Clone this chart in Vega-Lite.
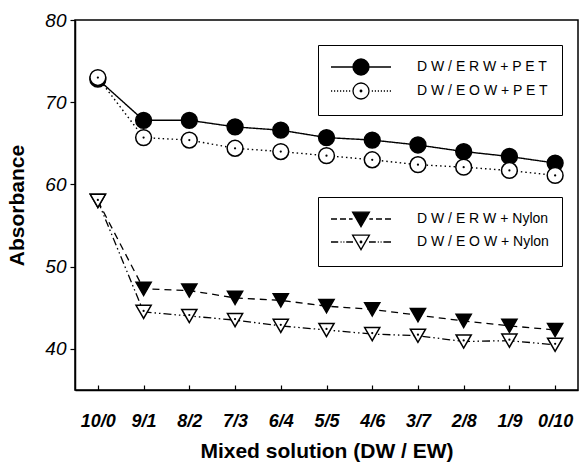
{
  "$schema": "https://vega.github.io/schema/vega-lite/v6.json",
  "width": 503,
  "height": 370,
  "autosize": {"type": "none"},
  "padding": {"left": 75, "top": 20, "right": 6, "bottom": 80},
  "background": "white",
  "config": {
    "font": "Liberation Sans",
    "view": {"stroke": "black", "strokeWidth": 1.5},
    "axis": {"domainColor": "black", "domainWidth": 1.5, "tickColor": "black", "tickWidth": 1.2, "labelColor": "black", "titleColor": "black", "grid": false},
    "legend": {"orient": "none", "title": null, "strokeColor": "black", "fillColor": "white", "padding": 13, "rowPadding": 2, "symbolSize": 256, "symbolOffset": 21, "labelOffset": 47, "labelFontSize": 14, "labelColor": "black", "labelFont": "Liberation Sans", "symbolStrokeColor": "black", "symbolStrokeWidth": 1.3, "symbolOpacity": 1}
  },
  "title": {"text": "Fig. 3.", "orient": "bottom", "anchor": "start", "dx": -73, "offset": -12, "fontSize": 20, "fontWeight": "bold", "color": "#444", "font": "Liberation Sans"},
  "datasets": {
    "pet": [
      {"series": "DW/ERW+PET", "ratio": "10/0", "value": 72.8},
      {"series": "DW/ERW+PET", "ratio": "9/1", "value": 67.8},
      {"series": "DW/ERW+PET", "ratio": "8/2", "value": 67.8},
      {"series": "DW/ERW+PET", "ratio": "7/3", "value": 67.0},
      {"series": "DW/ERW+PET", "ratio": "6/4", "value": 66.6},
      {"series": "DW/ERW+PET", "ratio": "5/5", "value": 65.7},
      {"series": "DW/ERW+PET", "ratio": "4/6", "value": 65.4},
      {"series": "DW/ERW+PET", "ratio": "3/7", "value": 64.8},
      {"series": "DW/ERW+PET", "ratio": "2/8", "value": 64.0},
      {"series": "DW/ERW+PET", "ratio": "1/9", "value": 63.4},
      {"series": "DW/ERW+PET", "ratio": "0/10", "value": 62.6},
      {"series": "DW/EOW+PET", "ratio": "10/0", "value": 73.0},
      {"series": "DW/EOW+PET", "ratio": "9/1", "value": 65.7},
      {"series": "DW/EOW+PET", "ratio": "8/2", "value": 65.4},
      {"series": "DW/EOW+PET", "ratio": "7/3", "value": 64.4},
      {"series": "DW/EOW+PET", "ratio": "6/4", "value": 64.0},
      {"series": "DW/EOW+PET", "ratio": "5/5", "value": 63.5},
      {"series": "DW/EOW+PET", "ratio": "4/6", "value": 63.0},
      {"series": "DW/EOW+PET", "ratio": "3/7", "value": 62.4},
      {"series": "DW/EOW+PET", "ratio": "2/8", "value": 62.1},
      {"series": "DW/EOW+PET", "ratio": "1/9", "value": 61.7},
      {"series": "DW/EOW+PET", "ratio": "0/10", "value": 61.1}
    ],
    "nylon": [
      {"series": "DW/ERW+Nylon", "ratio": "10/0", "value": 58.0},
      {"series": "DW/ERW+Nylon", "ratio": "9/1", "value": 47.3},
      {"series": "DW/ERW+Nylon", "ratio": "8/2", "value": 47.1},
      {"series": "DW/ERW+Nylon", "ratio": "7/3", "value": 46.2},
      {"series": "DW/ERW+Nylon", "ratio": "6/4", "value": 45.9},
      {"series": "DW/ERW+Nylon", "ratio": "5/5", "value": 45.2},
      {"series": "DW/ERW+Nylon", "ratio": "4/6", "value": 44.8},
      {"series": "DW/ERW+Nylon", "ratio": "3/7", "value": 44.1},
      {"series": "DW/ERW+Nylon", "ratio": "2/8", "value": 43.4},
      {"series": "DW/ERW+Nylon", "ratio": "1/9", "value": 42.8},
      {"series": "DW/ERW+Nylon", "ratio": "0/10", "value": 42.3},
      {"series": "DW/EOW+Nylon", "ratio": "10/0", "value": 58.0},
      {"series": "DW/EOW+Nylon", "ratio": "9/1", "value": 44.5},
      {"series": "DW/EOW+Nylon", "ratio": "8/2", "value": 44.0},
      {"series": "DW/EOW+Nylon", "ratio": "7/3", "value": 43.5},
      {"series": "DW/EOW+Nylon", "ratio": "6/4", "value": 42.8},
      {"series": "DW/EOW+Nylon", "ratio": "5/5", "value": 42.3},
      {"series": "DW/EOW+Nylon", "ratio": "4/6", "value": 41.8},
      {"series": "DW/EOW+Nylon", "ratio": "3/7", "value": 41.6},
      {"series": "DW/EOW+Nylon", "ratio": "2/8", "value": 40.9},
      {"series": "DW/EOW+Nylon", "ratio": "1/9", "value": 41.0},
      {"series": "DW/EOW+Nylon", "ratio": "0/10", "value": 40.5}
    ]
  },
  "encoding": {
    "x": {
      "field": "ratio", "type": "ordinal",
      "sort": ["10/0", "9/1", "8/2", "7/3", "6/4", "5/5", "4/6", "3/7", "2/8", "1/9", "0/10"],
      "scale": {"type": "point", "padding": 0.5},
      "axis": {"title": "Mixed solution (DW / EW)", "titleFontSize": 21, "titleFontWeight": "bold", "titlePadding": 10, "labelFontSize": 18, "labelFontStyle": "italic", "labelFontWeight": "bold", "labelAngle": 0, "tickSize": -5, "labelPadding": 27}
    },
    "y": {
      "field": "value", "type": "quantitative",
      "scale": {"domain": [35, 80], "nice": false, "zero": false},
      "axis": {"title": "Absorbance", "values": [40, 50, 60, 70, 80], "titleFontSize": 21, "titleFontWeight": "bold", "titlePadding": 17, "labelFontSize": 19, "labelFontStyle": "italic", "labelFontWeight": "normal", "tickSize": 5, "labelPadding": 4}
    }
  },
  "layer": [
    {
      "data": {"name": "pet"},
      "mark": {"type": "line", "color": "black", "strokeWidth": 1.4},
      "encoding": {
        "strokeDash": {"field": "series", "type": "nominal", "scale": {"domain": ["DW/ERW+PET", "DW/EOW+PET"], "range": [[1, 0], [1.5, 3]]}, "legend": null}
      }
    },
    {
      "data": {"name": "nylon"},
      "mark": {"type": "line", "color": "black", "strokeWidth": 1.3},
      "encoding": {
        "strokeDash": {"field": "series", "type": "nominal", "scale": {"domain": ["DW/ERW+Nylon", "DW/EOW+Nylon"], "range": [[7, 5], [8, 3, 1.5, 3, 1.5, 3]]}, "legend": null}
      }
    },
    {
      "data": {"name": "pet"},
      "mark": {"type": "point", "filled": true, "shape": "circle", "size": 250, "stroke": "black", "strokeWidth": 1.5, "opacity": 1},
      "encoding": {
        "fill": {
          "field": "series", "type": "nominal",
          "scale": {"domain": ["DW/ERW+PET", "DW/EOW+PET"], "range": ["black", "white"]},
          "legend": {
            "legendX": 243, "legendY": 25,
            "labelExpr": "datum.label == 'DW/ERW+PET' ? 'D W / E R W + P E T' : 'D W / E O W + P E T'",
            "encode": {"symbols": {"update": {
              "stroke": {"value": "black"}, "strokeWidth": {"value": 1.3}, "opacity": {"value": 1},
              "shape": {"signal": "datum.index === 0 ? 'M-3.75,0H-1M1,0H3.75M-1,0A1,1,0,1,1,1,0A1,1,0,1,1,-1,0Z' : 'M-3.75,0h0.15M-3.375,0h0.15M-3,0h0.15M-2.625,0h0.15M-2.25,0h0.15M-1.875,0h0.15M-1.5,0h0.15M1.35,0h0.15M1.725,0h0.15M2.1,0h0.15M2.475,0h0.15M2.85,0h0.15M3.225,0h0.15M3.6,0h0.15M-1,0A1,1,0,1,1,1,0A1,1,0,1,1,-1,0ZM-0.1,0A0.1,0.1,0,1,1,0.1,0A0.1,0.1,0,1,1,-0.1,0Z'"}
            }}}
          }
        }
      }
    },
    {
      "data": {"name": "nylon"},
      "mark": {"type": "point", "filled": true, "shape": "triangle-down", "size": 230, "stroke": "black", "strokeWidth": 1.5, "opacity": 1},
      "encoding": {
        "fill": {
          "field": "series", "type": "nominal",
          "scale": {"domain": ["DW/ERW+Nylon", "DW/EOW+Nylon"], "range": ["black", "white"]},
          "legend": {
            "legendX": 243, "legendY": 177,
            "labelExpr": "datum.label == 'DW/ERW+Nylon' ? 'D W / E R W + Nylon' : 'D W / E O W + Nylon'",
            "encode": {"symbols": {"update": {
              "stroke": {"value": "black"}, "strokeWidth": {"value": 1.3}, "opacity": {"value": 1},
              "shape": {"signal": "datum.index === 0 ? 'M-3.75,0h0.75M-2.625,0h0.75M-1.5,0h0.45M1.05,0h0.45M1.875,0h0.75M3,0h0.75M-1.05,-0.85L1.05,-0.85L0,0.95Z' : 'M-3.75,0h0.9M-2.55,0h0.12M-2.2,0h0.12M-1.85,0h0.85M1,0h0.85M2.1,0h0.12M2.45,0h0.12M2.8,0h0.95M-1.05,-0.85L1.05,-0.85L0,0.95ZM-0.1,0A0.1,0.1,0,1,1,0.1,0A0.1,0.1,0,1,1,-0.1,0Z'"}
            }}}
          }
        }
      }
    },
    {
      "data": {"name": "pet"},
      "transform": [{"filter": {"field": "series", "equal": "DW/EOW+PET"}}],
      "mark": {"type": "point", "filled": true, "shape": "circle", "size": 5, "color": "black", "opacity": 1}
    },
    {
      "data": {"name": "nylon"},
      "transform": [{"filter": {"field": "series", "equal": "DW/EOW+Nylon"}}],
      "mark": {"type": "point", "filled": true, "shape": "circle", "size": 5, "color": "black", "opacity": 1, "yOffset": -1}
    }
  ],
  "resolve": {"scale": {"fill": "independent", "strokeDash": "independent"}}
}
